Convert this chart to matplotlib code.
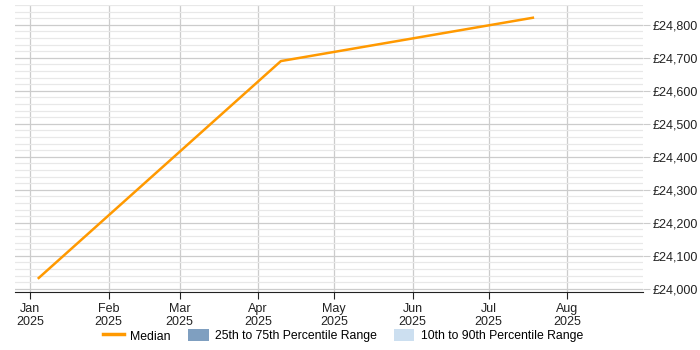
import matplotlib.pyplot as plt
from matplotlib.patches import Patch
from matplotlib.lines import Line2D
import pandas as pd

plt.rcParams['font.family'] = ['Liberation Sans', 'DejaVu Sans']

dates = pd.to_datetime(['2025-01-04', '2025-04-10', '2025-07-19'])
median = [24030, 24690, 24822]
tick_months = pd.date_range('2025-01-01', '2025-08-01', freq='MS')
tick_labels = [d.strftime('%b\n%Y') for d in tick_months]

fig = plt.figure(figsize=(7, 3.5), dpi=100)
ax = fig.add_axes([15 / 700, 1 - 292 / 350, 628 / 700, 287 / 350])

ax.plot(dates, median, color='#ff9900', lw=1.8, solid_capstyle='butt')

ax.set_xlim(pd.Timestamp('2024-12-26'), pd.Timestamp('2025-08-31'))
ax.set_ylim(23990, 24860)

ax.set_xticks(tick_months)
ax.set_xticklabels(tick_labels, fontsize=9, color='#222222', linespacing=1.05)
ax.set_yticks(range(24000, 24801, 100))
ax.set_yticklabels([f'£{v:,}' for v in range(24000, 24801, 100)], fontsize=9, color='#222222')
ax.set_yticks(range(24000, 24861, 20), minor=True)

ax.yaxis.tick_right()
ax.tick_params(axis='y', which='major', length=5, color='#cccccc', pad=2)
ax.tick_params(axis='y', which='minor', length=0)
ax.tick_params(axis='x', length=5, color='#222222', pad=3)

ax.grid(axis='y', which='minor', color='#e8e8e8', lw=0.9)
ax.grid(axis='y', which='major', color='#cccccc', lw=0.9)
ax.grid(axis='x', which='major', color='#cccccc', lw=0.9)
ax.set_axisbelow(True)

for s in ['top', 'right', 'left']:
    ax.spines[s].set_visible(False)
ax.spines['bottom'].set_color('#222222')

handles = [
    Line2D([], [], color='#ff9900', lw=2.5),
    Patch(facecolor='#7f9fc0'),
    Patch(facecolor='#ccdff0'),
]
labels = ['Median', '25th to 75th Percentile Range', '10th to 90th Percentile Range']
fig.legend(handles, labels, loc='lower center', bbox_to_anchor=(0.49, -0.01), ncol=3,
           frameon=False, fontsize=8.8, handlelength=1.7, handleheight=1.1,
           columnspacing=1.4, handletextpad=0.5)

fig.savefig('out.png', dpi=100)
